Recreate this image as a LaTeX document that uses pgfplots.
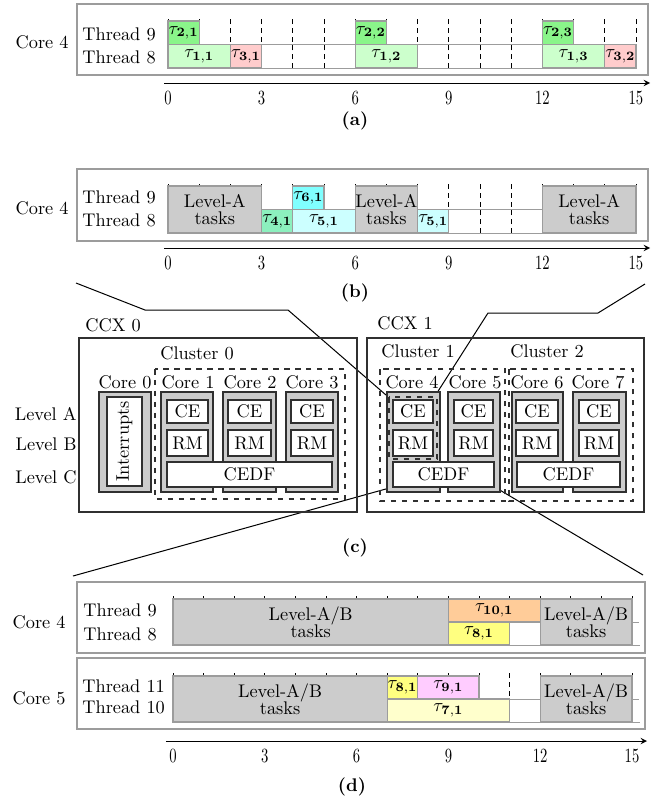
\documentclass[border=0pt]{standalone}
\usepackage{pgfplots}
\pgfplotsset{compat=1.18}
\definecolor{bgray}{HTML}{CCCCCC}
\definecolor{edge}{HTML}{9C9C9C}
\definecolor{dark}{HTML}{303030}
\definecolor{tA}{HTML}{8AF58A}
\definecolor{tB}{HTML}{CCFFCC}
\definecolor{tC}{HTML}{FFCCCC}
\definecolor{tD}{HTML}{8CF0BE}
\definecolor{tE}{HTML}{CCFFFF}
\definecolor{tF}{HTML}{80FFFF}
\definecolor{tG}{HTML}{FFFFCC}
\definecolor{tH}{HTML}{FFFF80}
\definecolor{tI}{HTML}{FFCCFF}
\definecolor{tJ}{HTML}{FFCC99}
\newcommand{\task}[6]{%
  \addplot[fill=#5, draw=edge, line width=0.7pt, forget plot] coordinates {(#1,#3) (#2,#3) (#2,#4) (#1,#4)} -- cycle;
  \addplot[draw=none, forget plot] coordinates {(#1,#3) (#2,#4)} node[pos=0.5, inner sep=0pt, align=center] {#6};
}
\newcommand{\vlines}[1]{\pgfplotsinvokeforeach{0,...,15}{\addplot[black, dash pattern=on 2.8pt off 2pt, line width=0.5pt, forget plot] coordinates {(##1,0) (##1,#1)};}}
\newcommand{\lvl}[1]{#1\\[-2.5pt]tasks}
\newcommand{\tl}[1]{$\tau_{\mathbf{#1}}$}
\pgfplotsset{
  gantt/.style={anchor=south west, clip=false, ytick=\empty, yticklabels={}},
  timeaxis/.style={axis x line=bottom, axis y line=none, x axis line style={-stealth, line width=0.55pt, black},
    xtick={0,3,6,9,12,15}, major tick length=0pt,
    xticklabel={\scalebox{0.8}[1.1]{$\pgfmathprintnumber{\tick}$}},
    xticklabel style={yshift=-1.2pt}},
}
\begin{document}
\begin{tikzpicture}
\begin{scope}[x=0.546pt,y=-0.546pt, every node/.style={inner sep=0pt}]
\path[use as bounding box] (0,0) rectangle (662,806);
% (a)
\draw[edge, line width=0.8pt] (77,4) rectangle (648,75);
\node[anchor=east] at (69,42) {Core 4};
\node[anchor=west] at (82,34) {Thread 9};
\node[anchor=west] at (82,57) {Thread 8};
\node at (355,121) {\textbf{(a)}};
% (b)
\draw[edge, line width=0.8pt] (77,169) rectangle (648,241);
\node[anchor=east] at (69,208) {Core 4};
\node[anchor=west] at (82,197) {Thread 9};
\node[anchor=west] at (82,220) {Thread 8};
\node at (355,293) {\textbf{(b)}};
% connectors
\draw[line width=0.55pt] (76,283) -- (145,310) -- (288,310) -- (386,395);
\draw[line width=0.55pt] (645,284) -- (598,313) -- (488,313) -- (435,396);
\draw[line width=0.55pt] (393,487) -- (73,576);
\draw[line width=0.55pt] (493,486) -- (643,575);
% (c)
\draw[dark, line width=0.7pt] (79,338) rectangle (357,512);
\draw[dark, line width=0.7pt] (367,338) rectangle (644,512);
\node[anchor=west] at (85,325) {CCX 0};
\node[anchor=west] at (377,323) {CCX 1};
\node at (197,353) {Cluster 0};
\node at (418,351) {Cluster 1};
\node at (547,351) {Cluster 2};
\draw[dark, dashed, line width=0.6pt] (155,369) rectangle (345,499);
\draw[dark, dashed, line width=0.6pt] (380,369) rectangle (505,501);
\draw[dark, dashed, line width=0.6pt] (509,369) rectangle (633,501);
\foreach \a/\b in {99/151,161/213,223/276,286/338,387/440,448/500,512/563,573/626}
  \draw[dark, fill=bgray, line width=0.6pt] (\a,392) rectangle (\b,492);
\foreach \x/\n in {125/0,188/1,250/2,312/3,412/4,475/5,537/6,598/7}
  \node at (\x,382) {Core \n};
\draw[dark, fill=white, line width=0.7pt] (107,397) rectangle (142,486);
\node[rotate=90] at (124.5,441.5) {Interrupts};
\draw[dark, dashed, line width=0.6pt] (389,397) rectangle (437,459);
\foreach \a/\b in {167/208,228/271,291/333,393/433,454/493,516/558,579/619}{
  \draw[dark, fill=white, line width=0.7pt] (\a,400) rectangle (\b,423);
  \node at ({(\a+\b)/2},411.5) {CE};
  \draw[dark, fill=white, line width=0.7pt] (\a,430) rectangle (\b,456);
  \node at ({(\a+\b)/2},443) {RM};
}
\foreach \a/\b in {167/332,393/494,517/620}{
  \draw[dark, fill=white, line width=0.7pt] (\a,462) rectangle (\b,487);
  \node at ({(\a+\b)/2},474.5) {CEDF};
}
\node[anchor=east] at (77,414) {Level A};
\node[anchor=east] at (77,444) {Level B};
\node[anchor=east] at (77,477) {Level C};
\node at (355,548) {\textbf{(c)}};
% (d)
\draw[edge, line width=0.8pt] (77,582) rectangle (645,653);
\draw[edge, line width=0.8pt] (77,658) rectangle (645,729);
\node[anchor=east] at (66,622) {Core 4};
\node[anchor=west] at (83,610) {Thread 9};
\node[anchor=west] at (83,634) {Thread 8};
\node[anchor=east] at (66,698) {Core 5};
\node[anchor=west] at (82,686) {Thread 11};
\node[anchor=west] at (82,707) {Thread 10};
\node at (352,787) {\textbf{(d)}};
\end{scope}

% (a) schedule
\begin{axis}[gantt, timeaxis, at={(164*0.546pt,-83*0.546pt)}, x=17.035pt, y=12.831pt,
  xmin=-0.128, xmax=15.45, ymin=-0.638, ymax=2.2]
\vlines{2.17}
\addplot[edge, line width=0.5pt, forget plot] coordinates {(0,1) (15,1)};
\addplot[edge, line width=0.5pt, forget plot] coordinates {(0,0) (15,0)};
\task{0}{1}{1}{2}{tA}{\tl{2,1}}
\task{0}{2}{0}{1}{tB}{\tl{1,1}}
\task{2}{3}{0}{1}{tC}{\tl{3,1}}
\task{6}{7}{1}{2}{tA}{\tl{2,2}}
\task{6}{8}{0}{1}{tB}{\tl{1,2}}
\task{12}{13}{1}{2}{tA}{\tl{2,3}}
\task{12}{14}{0}{1}{tB}{\tl{1,3}}
\task{14}{15}{0}{1}{tC}{\tl{3,2}}
\end{axis}

% (b) schedule
\begin{axis}[gantt, timeaxis, at={(164*0.546pt,-248*0.546pt)}, x=17.035pt, y=12.831pt,
  xmin=-0.128, xmax=15.45, ymin=-0.638, ymax=2.2]
\vlines{2.13}
\addplot[edge, line width=0.5pt, forget plot] coordinates {(0,1) (15,1)};
\addplot[edge, line width=0.5pt, forget plot] coordinates {(0,0) (15,0)};
\task{0}{3}{0}{2}{bgray}{\lvl{Level-A}}
\task{3}{4}{0}{1}{tD}{\tl{4,1}}
\task{4}{5}{1}{2}{tF}{\tl{6,1}}
\task{4}{6}{0}{1}{tE}{\tl{5,1}}
\task{6}{8}{0}{2}{bgray}{\lvl{Level-A}}
\task{8}{9}{0}{1}{tE}{\tl{5,1}}
\task{12}{15}{0}{2}{bgray}{\lvl{Level-A}}
\end{axis}

% (d) core 4
\begin{axis}[gantt, hide axis, at={(173*0.546pt,-645*0.546pt)}, x=16.708pt, y=12.558pt,
  xmin=0, xmax=15.3, ymin=0, ymax=2.22]
\vlines{2.2}
\addplot[edge, line width=0.5pt, forget plot] coordinates {(0,1) (15.22,1)};
\addplot[edge, line width=0.5pt, forget plot] coordinates {(0,0) (15.26,0)};
\task{0}{9}{0}{2}{bgray}{\lvl{Level-A/B}}
\task{9}{12}{1}{2}{tJ}{\tl{10,1}}
\task{9}{11}{0}{1}{tH}{\tl{8,1}}
\task{12}{15}{0}{2}{bgray}{\lvl{Level-A/B}}
\end{axis}

% (d) core 5
\begin{axis}[gantt, timeaxis, at={(166*0.546pt,-741*0.546pt)}, x=16.708pt, y=12.558pt,
  xmin=-0.229, xmax=15.49, ymin=-0.826, ymax=2.2]
\vlines{2.13}
\addplot[edge, line width=0.5pt, forget plot] coordinates {(0,1) (15.22,1)};
\addplot[edge, line width=0.5pt, forget plot] coordinates {(0,0) (15.26,0)};
\task{0}{7}{0}{2}{bgray}{\lvl{Level-A/B}}
\task{7}{8}{1}{2}{tH}{\tl{8,1}}
\task{8}{10}{1}{2}{tI}{\tl{9,1}}
\task{7}{11}{0}{1}{tG}{\tl{7,1}}
\task{12}{15}{0}{2}{bgray}{\lvl{Level-A/B}}
\end{axis}
\end{tikzpicture}
\end{document}
